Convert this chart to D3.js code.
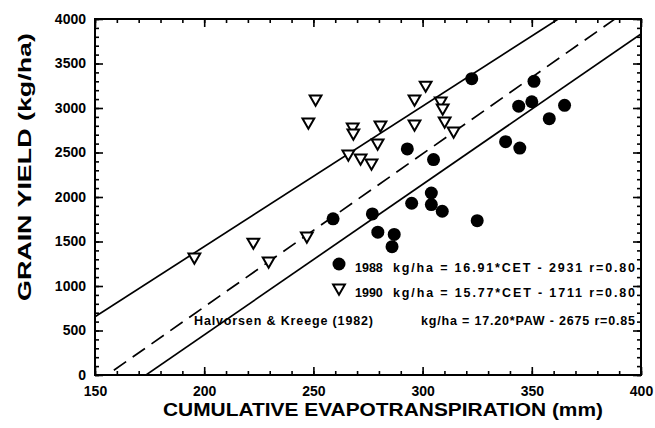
<!DOCTYPE html>
<html><head><meta charset="utf-8">
<script src="https://cdn.jsdelivr.net/npm/d3@7"></script>
<style>
html,body{margin:0;padding:0;background:#fff;}
svg{display:block;font-family:"Liberation Sans",Arial,sans-serif;font-weight:bold;}
</style></head>
<body><svg id="c" width="655" height="428"></svg>
<script>
// ---- data ----
const x1988 = [259, 277, 279.5, 286, 287, 293, 295, 304, 304, 305, 309, 322.5, 325, 338, 344, 344.5, 350, 351, 358, 365];
const y1988 = [1755, 1810, 1605, 1442, 1580, 2540, 1930, 2045, 1915, 2420, 1840, 3330, 1734, 2622, 3020, 2550, 3070, 3300, 2880, 3030];
const x1990 = [195.5, 222.5, 229.5, 247, 251, 247.7, 268, 268.3, 280.7, 279.4, 266, 271.6, 276.6, 301.4, 296.3, 308.3, 309.2, 296.3, 310.1, 314.2];
const y1990 = [1326, 1494, 1281, 1562, 3101, 2843, 2787, 2719, 2809, 2607, 2483, 2438, 2382, 3258, 3101, 3079, 3000, 2820, 2854, 2742];
const fitNames = ["1988", "1990", "Halvorsen & Kreege (1982)"];
const fitSlopes = [16.91, 15.77, 17.20];
const fitIntercepts = [-2931, -1711, -2675];
const fitText = ["kg/ha = 16.91*CET - 2931 r=0.80", "kg/ha = 15.77*CET - 1711 r=0.80", "kg/ha = 17.20*PAW - 2675 r=0.85"];
const xTicks = [150, 200, 250, 300, 350, 400];
const yTicks = [0, 500, 1000, 1500, 2000, 2500, 3000, 3500, 4000];
const xLabel = "CUMULATIVE EVAPOTRANSPIRATION (mm)";
const yLabel = "GRAIN YIELD (kg/ha)";

// ---- layout ----
const L = 95, R = 641, T = 19, B = 375;
const svg = d3.select("#c");
const x = d3.scaleLinear().domain([150, 400]).range([L, R]);
const y = d3.scaleLinear().domain([0, 4000]).range([B, T]);

svg.append("defs").append("clipPath").attr("id", "clip")
  .append("rect").attr("x", L).attr("y", T).attr("width", R - L).attr("height", B - T);

// regression lines
const g = svg.append("g").attr("clip-path", "url(#clip)");
fitSlopes.forEach((s, i) => {
  const pts = [150, 400].map(v => [x(v), y(s * v + fitIntercepts[i])]);
  g.append("path").attr("d", d3.line()(pts))
    .attr("fill", "none").attr("stroke", "#000").attr("stroke-width", 1.7)
    .attr("stroke-dasharray", i === 2 ? "15,8" : null);
});

// axes
function styleAxis(sel) {
  sel.selectAll("path.domain").remove();
  sel.selectAll("line").attr("stroke", "#000").attr("stroke-width", 1.6);
  sel.selectAll("text").attr("fill", "#000").style("font-weight", "bold").style("font-size", "14px");
}
const xMinor = d3.range(150, 401, 10), yMinor = d3.range(0, 4001, 100);
svg.append("g").attr("transform", `translate(0,${B})`)
  .call(d3.axisBottom(x).tickValues(xMinor).tickSize(-4).tickFormat("")).call(styleAxis);
svg.append("g").attr("transform", `translate(0,${B})`)
  .call(d3.axisBottom(x).tickValues(xTicks).tickSizeInner(-8).tickSizeOuter(0).tickPadding(11).tickFormat(d3.format("d"))).call(styleAxis);
svg.append("g").attr("transform", `translate(0,${T})`)
  .call(d3.axisTop(x).tickValues(xMinor).tickSize(-4).tickFormat("")).call(styleAxis);
svg.append("g").attr("transform", `translate(0,${T})`)
  .call(d3.axisTop(x).tickValues(xTicks).tickSize(-8).tickFormat("")).call(styleAxis);
svg.append("g").attr("transform", `translate(${L},0)`)
  .call(d3.axisLeft(y).tickValues(yMinor).tickSize(-4).tickFormat("")).call(styleAxis);
svg.append("g").attr("transform", `translate(${L},0)`)
  .call(d3.axisLeft(y).tickValues(yTicks).tickSizeInner(-8).tickSizeOuter(0).tickPadding(9).tickFormat(d3.format("d"))).call(styleAxis);
svg.append("g").attr("transform", `translate(${R},0)`)
  .call(d3.axisRight(y).tickValues(yMinor).tickSize(-4).tickFormat("")).call(styleAxis);
svg.append("g").attr("transform", `translate(${R},0)`)
  .call(d3.axisRight(y).tickValues(yTicks).tickSize(-8).tickFormat("")).call(styleAxis);

// frame
svg.append("rect").attr("x", L).attr("y", T).attr("width", R - L).attr("height", B - T)
  .attr("fill", "none").attr("stroke", "#000").attr("stroke-width", 2);

// points
const tri = d3.symbol().type(d3.symbolTriangle).size(60);
svg.append("g").selectAll("path").data(x1990.map((v, i) => [v, y1990[i]])).join("path")
  .attr("d", tri).attr("transform", d => `translate(${x(d[0])},${y(d[1])}) rotate(180)`)
  .attr("fill", "#fff").attr("stroke", "#000").attr("stroke-width", 2);
svg.append("g").selectAll("circle").data(x1988.map((v, i) => [v, y1988[i]])).join("circle")
  .attr("cx", d => x(d[0])).attr("cy", d => y(d[1])).attr("r", 6.5).attr("fill", "#000");

// legend
svg.append("circle").attr("cx", 339).attr("cy", 264).attr("r", 6.5).attr("fill", "#000");
svg.append("path").attr("d", tri).attr("transform", "translate(339,288) rotate(180)")
  .attr("fill", "#fff").attr("stroke", "#000").attr("stroke-width", 2);
const lg = svg.append("g").style("font-size", "12.5px").attr("fill", "#000");
lg.append("text").attr("x", 355).attr("y", 272).text(fitNames[0]);
lg.append("text").attr("x", 355).attr("y", 297).text(fitNames[1]);
lg.append("text").attr("x", 194).attr("y", 325).attr("textLength", 179).attr("lengthAdjust", "spacing").text(fitNames[2]);
lg.append("text").attr("x", 393).attr("y", 272).attr("textLength", 242).attr("lengthAdjust", "spacing").text(fitText[0]);
lg.append("text").attr("x", 393).attr("y", 297).attr("textLength", 242).attr("lengthAdjust", "spacing").text(fitText[1]);
lg.append("text").attr("x", 421).attr("y", 325).attr("textLength", 214).attr("lengthAdjust", "spacing").text(fitText[2]);

// axis titles
svg.append("text").attr("x", 383).attr("y", 416).attr("text-anchor", "middle")
  .style("font-size", "19px").attr("textLength", 440).attr("lengthAdjust", "spacingAndGlyphs").text(xLabel);
svg.append("text").attr("transform", "translate(31,167) rotate(-90)").attr("text-anchor", "middle")
  .style("font-size", "19px").attr("textLength", 268).attr("lengthAdjust", "spacingAndGlyphs").text(yLabel);
</script></body></html>
